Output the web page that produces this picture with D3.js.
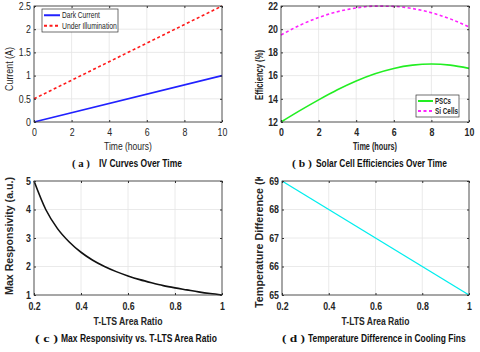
<!DOCTYPE html>
<html>
<head>
<meta charset="utf-8">
<script src="https://cdn.jsdelivr.net/npm/d3@7"></script>
<style>
    body { margin: 0; background: #fff; }
    svg { display: block; font-family: "Liberation Sans", Arial, sans-serif; }
</style>
</head>
<body>
<div id="draw"></div>
<script>
// (a) IV curves over time
var timeA = [0, 10],
    darkCurrent = [0, 1],
    underIllumination = [0.5, 2.5],
    ticksA_x = [0, 2, 4, 6, 8, 10],
    ticksA_y = [0, 0.5, 1, 1.5, 2, 2.5];

// (b) solar cell efficiencies
var timeB = [0, 1, 2, 3, 4, 5, 6, 7, 8, 9, 10],
    pscs = [12, 12.98, 13.91, 14.78, 15.54, 16.16, 16.62, 16.9, 17, 16.9, 16.62],
    siCells = [19.5, 20.34, 21.01, 21.51, 21.83, 21.99, 21.97, 21.78, 21.42, 20.89, 20.19],
    ticksB_x = [0, 2, 4, 6, 8, 10],
    ticksB_y = [12, 14, 16, 18, 20, 22];

// (c) max responsivity
var ratioC = [0.2, 0.25, 0.3, 0.35, 0.4, 0.45, 0.5, 0.55, 0.6, 0.65, 0.7, 0.75, 0.8, 0.85, 0.9, 0.95, 1],
    responsivity = [5, 4, 3.33, 2.86, 2.5, 2.22, 2, 1.82, 1.67, 1.54, 1.43, 1.33, 1.25, 1.18, 1.11, 1.05, 1],
    ticksC_x = [0.2, 0.4, 0.6, 0.8, 1],
    ticksC_y = [1, 2, 3, 4, 5];

// (d) temperature difference
var ratioD = [0.2, 1],
    tempDiff = [69, 65],
    ticksD_x = [0.2, 0.4, 0.6, 0.8, 1],
    ticksD_y = [65, 66, 67, 68, 69];

var svg = d3.select('#draw').append('svg').attr('width', 480).attr('height', 352);

svg.append('defs').append('clipPath').attr('id', 'clipD')
    .append('rect').attr('x', 240).attr('y', 177).attr('width', 240).attr('height', 175);

// squeeze a text horizontally to the width it has in the picture (condensed font look)
// text is placed at 0,0 and positioned through px, py, rot
function fit(sel, w, px, py, rot) {
    var natural = sel.node().getComputedTextLength(),
        s = w ? w / natural : 1;
    sel.attr('transform', 'translate(' + px + ',' + py + ')' + (rot ? ' rotate(' + rot + ')' : '') + ' scale(' + s + ',1)');
    return sel;
}

function drawPanel(cfg) {
    var root = svg.append('g');
    if (cfg.clip) root.attr('clip-path', 'url(#' + cfg.clip + ')');
    var g = root.append('g').attr('transform', 'translate(' + cfg.x + ',' + cfg.y + ')'),
        w = cfg.w,
        h = cfg.h,
        x = d3.scaleLinear().domain(cfg.xDomain).range([0, w]),
        y = d3.scaleLinear().domain(cfg.yDomain).range([h, 0]),
        weight = cfg.bold ? 'bold' : 'normal';

    // grid
    g.append('g').selectAll('line').data(cfg.xTicks).enter().append('line')
        .attr('x1', d => x(d)).attr('x2', d => x(d)).attr('y1', 0).attr('y2', h)
        .attr('stroke', '#e4e4e4').attr('stroke-width', 0.8);
    g.append('g').selectAll('line').data(cfg.yTicks).enter().append('line')
        .attr('y1', d => y(d)).attr('y2', d => y(d)).attr('x1', 0).attr('x2', w)
        .attr('stroke', '#e4e4e4').attr('stroke-width', 0.8);

    // series
    var line = d3.line().x(d => x(d[0])).y(d => y(d[1])).curve(d3.curveMonotoneX);
    cfg.series.forEach(function (s) {
        var pts = s.x.map((v, i) => [v, s.y[i]]);
        g.append('path').datum(pts)
            .attr('d', line)
            .attr('fill', 'none')
            .attr('stroke', s.color)
            .attr('stroke-width', s.width || 1.5)
            .attr('stroke-dasharray', s.dash || null);
    });

    // axes, MATLAB style inward ticks on all sides
    var axB = g.append('g').attr('transform', 'translate(0,' + h + ')')
        .call(d3.axisBottom(x).tickValues(cfg.xTicks).tickSizeInner(-2).tickSizeOuter(0).tickPadding(cfg.xPad).tickFormat(String));
    var axL = g.append('g')
        .call(d3.axisLeft(y).tickValues(cfg.yTicks).tickSizeInner(-2).tickSizeOuter(0).tickPadding(3).tickFormat(String));
    g.append('g').call(d3.axisTop(x).tickValues(cfg.xTicks).tickSizeInner(-2).tickSizeOuter(0).tickFormat(''));
    g.append('g').attr('transform', 'translate(' + w + ',0)')
        .call(d3.axisRight(y).tickValues(cfg.yTicks).tickSizeInner(-2).tickSizeOuter(0).tickFormat(''));
    g.selectAll('.domain').remove();
    g.selectAll('.tick line').attr('stroke', '#333');
    [axB, axL].forEach(function (a) {
        a.selectAll('text')
            .attr('font-family', '"Liberation Sans", Arial, sans-serif')
            .attr('font-size', 10)
            .attr('font-weight', weight)
            .attr('fill', '#262626')
            .attr('transform', 'scale(0.88,1)')
            .attr('x', function () { return +d3.select(this).attr('x') / 0.88 || 0; });
    });
    axB.selectAll('.tick text').attr('x', 0);
    g.append('rect').attr('width', w).attr('height', h)
        .attr('fill', 'none').attr('stroke', '#333').attr('stroke-width', 0.8);

    // axis labels
    fit(g.append('text')
        .attr('text-anchor', 'middle')
        .attr('font-size', 10.5).attr('font-weight', weight).attr('fill', '#262626')
        .text(cfg.xLabel), cfg.xLabelW, w / 2, h + cfg.xLabelDy);
    fit(g.append('text')
        .attr('text-anchor', 'middle')
        .attr('font-size', 10.5).attr('font-weight', weight).attr('fill', '#262626')
        .text(cfg.yLabel), cfg.yLabelW, cfg.yLabelX, cfg.yLabelY, -90);

    // caption below the panel
    var C = cfg.caption;
    fit(svg.append('text')
        .attr('font-family', '"Liberation Serif", "DejaVu Serif", serif')
        .attr('font-size', 10).attr('font-weight', 'bold').attr('fill', '#111')
        .text('( ' + cfg.letter + ' )'), C.letterW, C.letterX, C.y);
    fit(svg.append('text')
        .attr('font-size', 10.5).attr('font-weight', 'bold').attr('fill', '#111')
        .text(cfg.title), C.titleW, C.titleX, C.y);

    // legend
    if (cfg.legend) {
        var L = cfg.legend,
            lg = g.append('g').attr('transform', 'translate(' + L.x + ',' + L.y + ')');
        lg.append('rect').attr('width', L.w).attr('height', L.h)
            .attr('fill', '#fff').attr('stroke', '#333').attr('stroke-width', 0.7);
        cfg.series.forEach(function (s, i) {
            var yy = L.h / 2 + (i - (cfg.series.length - 1) / 2) * L.rowH;
            lg.append('line').attr('x1', 2).attr('x2', 2 + L.lineW).attr('y1', yy).attr('y2', yy)
                .attr('stroke', s.color).attr('stroke-width', 2)
                .attr('stroke-dasharray', s.dash || null);
            fit(lg.append('text')
                .attr('dy', '0.35em')
                .attr('font-size', L.fontSize).attr('font-weight', weight).attr('fill', '#262626')
                .text(s.name), L.textW[i], 4 + L.lineW, yy);
        });
    }
}

drawPanel({
    x: 34, y: 6, w: 188, h: 116,
    xDomain: [0, 10], yDomain: [0, 2.5],
    xTicks: ticksA_x, yTicks: ticksA_y, xPad: 7,
    xLabel: 'Time (hours)', xLabelDy: 28, xLabelW: 48,
    yLabel: 'Current (A)', yLabelX: -21, yLabelY: 63, yLabelW: 44,
    letter: 'a', title: 'IV Curves Over Time', bold: false,
    caption: {y: 166.5, letterX: 72, letterW: 18, titleX: 99, titleW: 83},
    series: [
        {name: 'Dark Current', x: timeA, y: darkCurrent, color: '#2121ff', width: 1.6},
        {name: 'Under Illumination', x: timeA, y: underIllumination, color: '#ff1a1a', width: 1.6, dash: '3,2.5'}
    ],
    legend: {x: 8, y: 3, w: 76, h: 23, rowH: 10.5, lineW: 16, fontSize: 9, textW: [38, 55]}
});

drawPanel({
    x: 281, y: 6, w: 188, h: 116,
    xDomain: [0, 10], yDomain: [12, 22],
    xTicks: ticksB_x, yTicks: ticksB_y, xPad: 7,
    xLabel: 'Time (hours)', xLabelDy: 28, xLabelW: 44,
    yLabel: 'Efficiency (%)', yLabelX: -18, yLabelY: 69, yLabelW: 50,
    letter: 'b', title: 'Solar Cell Efficiencies Over Time', bold: true,
    caption: {y: 167, letterX: 292, letterW: 20, titleX: 316, titleW: 131},
    series: [
        {name: 'PSCs', x: timeB, y: pscs, color: '#22ee22', width: 1.6},
        {name: 'Si Cells', x: timeB, y: siCells, color: '#ff22ff', width: 1.6, dash: '3,2.5'}
    ],
    legend: {x: 135, y: 89, w: 43, h: 22, rowH: 10, lineW: 15, fontSize: 9, textW: [16, 23]}
});

drawPanel({
    x: 34, y: 181, w: 188, h: 114,
    xDomain: [0.2, 1], yDomain: [1, 5],
    xTicks: ticksC_x, yTicks: ticksC_y, xPad: 7.5,
    xLabel: 'T-LTS Area Ratio', xLabelDy: 30, xLabelW: 69,
    yLabel: 'Max Responsivity (a.u.)', yLabelX: -21, yLabelY: 55, yLabelW: 118,
    letter: 'c', title: 'Max Responsivity vs. T-LTS Area Ratio', bold: true,
    caption: {y: 342, letterX: 35, letterW: 23, titleX: 61, titleW: 156},
    series: [
        {name: 'Responsivity', x: ratioC, y: responsivity, color: '#111', width: 1.6}
    ]
});

drawPanel({
    x: 282, y: 181, w: 187, h: 114,
    xDomain: [0.2, 1], yDomain: [65, 69],
    xTicks: ticksD_x, yTicks: ticksD_y, xPad: 7.5,
    xLabel: 'T-LTS Area Ratio', xLabelDy: 30, xLabelW: 68,
    yLabel: 'Temperature Difference (K)', yLabelX: -19, yLabelY: 58, yLabelW: 138,
    letter: 'd', title: 'Temperature Difference in Cooling Fins', bold: true, clip: 'clipD',
    caption: {y: 342, letterX: 282, letterW: 23, titleX: 308, titleW: 158},
    series: [
        {name: 'Temperature', x: ratioD, y: tempDiff, color: '#00eeee', width: 1.3}
    ]
});
</script>
</body>
</html>
